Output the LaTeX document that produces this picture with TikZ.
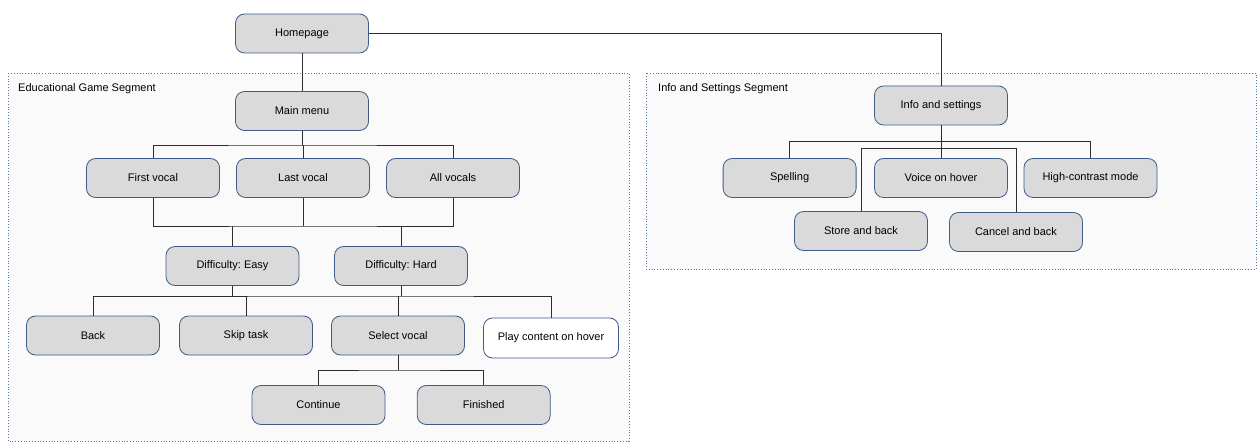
\documentclass[tikz,border=0pt]{standalone}
\usepackage{fontspec}
\setmainfont{Liberation Sans}
\usepackage{xcolor}
\definecolor{boxfill}{HTML}{DADADA}
\definecolor{boxline}{HTML}{3E5C87}
\definecolor{segline}{HTML}{5577AA}
\definecolor{segfill}{HTML}{FAFAFA}
\definecolor{wire}{HTML}{2E2E2E}
\frenchspacing

\begin{document}
\begin{tikzpicture}[x=1pt, y=-1pt, font=\fontsize{11}{13}\selectfont,
    screenbox/.style={draw=boxline, fill=boxfill, line width=0.8pt, rectangle, rounded corners=9pt, minimum width=133pt, minimum height=39pt, inner sep=0pt},
    segbox/.style={draw=segline, fill=segfill, dotted, line width=0.8pt},
    link/.style={draw=wire, line width=0.8pt}]
            \useasboundingbox (0,0) rectangle (1257,443);
            % segments
            \draw[segbox] (8,73) rectangle (629,441);
            \draw[segbox] (646,73) rectangle (1256,269);
            \node[anchor=west, inner sep=0pt](seggame) at (18,89){Educational Game Segment};
            \node[anchor=west, inner sep=0pt](seginfo) at (658,89){Info and Settings Segment};

            \node[screenbox](home) at (302,33.5){Homepage};
            \node[screenbox](menu) at (302,111){Main menu};
            \node[screenbox](first) at (153,178){First vocal};
            \node[screenbox](last) at (303,178){Last vocal};
            \node[screenbox](all) at (453,178){All vocals};
            \node[screenbox](easy) at (232.5,266){Difficulty: Easy};
            \node[screenbox](hard) at (401,266){Difficulty: Hard};
            \node[screenbox](back) at (93,335.5){Back};
            \node[screenbox](skip) at (246,335.5){Skip task};
            \node[screenbox](select) at (398,335.5){Select vocal};
            \node[screenbox, fill=white, minimum width=135pt, minimum height=40pt](play) at (551,338){Play content on hover};
            \node[screenbox](cont) at (318.5,405){Continue};
            \node[screenbox](done) at (483.7,405){Finished};

            \node[screenbox](info) at (941,105.5){Info and settings};
            \node[screenbox](spell) at (789.6,178){Spelling};
            \node[screenbox](voice) at (941,178){Voice on hover};
            \node[screenbox](contrast) at (1090.5,178){High-contrast mode};
            \node[screenbox](store) at (861,231){Store and back};
            \node[screenbox](cancel) at (1016,232){Cancel and back};

            \coordinate (busa) at (302,145);
            \coordinate (busb) at (303,226);
            \coordinate (busc) at (398,296);
            \coordinate (busd) at (398,370);
            \coordinate (buse) at (941,141.7);
            \coordinate (busf) at (941,148.3);

            \draw[link] (home.south) -- (menu.north);
            \draw[link] (home.east) -| (info.north);
            \draw[link] (menu.south) -- (busa);
            \draw[link] (first.north) |- (busa) -| (all.north);
            \draw[link] (last.north) -- (last.north |- busa);
            \draw[link] (first.south) |- (busb) -| (all.south);
            \draw[link] (last.south) -- (busb);
            \draw[link] (easy.north) -- (easy.north |- busb);
            \draw[link] (hard.north) -- (hard.north |- busb);
            \draw[link] (easy.south) -- (easy.south |- busc);
            \draw[link] (hard.south) -- (hard.south |- busc);
            \draw[link] (back.north) |- (busc) -| (play.north);
            \draw[link] (skip.north) -- (skip.north |- busc);
            \draw[link] (select.north) -- (busc);
            \draw[link] (select.south) -- (busd);
            \draw[link] (cont.north) |- (busd) -| (done.north);

            \draw[link] (info.south) -- (busf);
            \draw[link] (spell.north) |- (buse) -| (contrast.north);
            \draw[link] (voice.north) -- (buse);
            \draw[link] (store.north) |- (busf) -| (cancel.north);
        \end{tikzpicture}
\end{document}
